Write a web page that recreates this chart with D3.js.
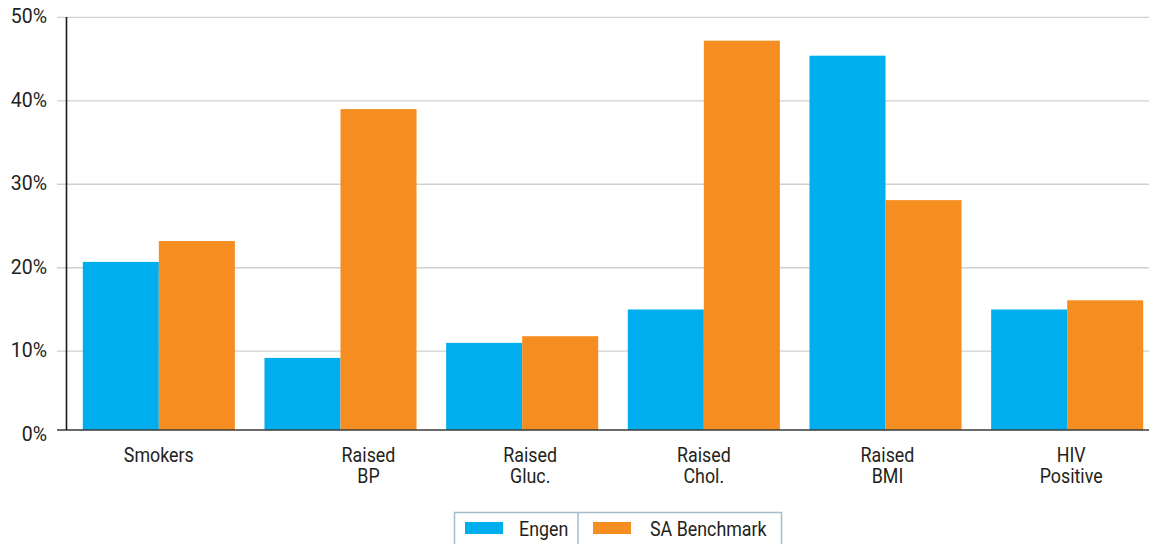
<!DOCTYPE html>
<html>
<head>
<meta charset="utf-8">
<script src="https://cdn.jsdelivr.net/npm/d3@7"></script>
<style>
    body { margin: 0; background: #fff; }
    text { font-family: "Roboto", "Liberation Sans", sans-serif; fill: #231f20; }
</style>
</head>
<body>
<svg id="chart" width="1149" height="544"></svg>
<script>
// Categories (multi-line labels)
const categories = ["Smokers", "Raised BP", "Raised Gluc.", "Raised Chol.", "Raised BMI", "HIV Positive"]
const labelLines = [["Smokers"], ["Raised", "BP"], ["Raised", "Gluc."], ["Raised", "Chol."], ["Raised", "BMI"], ["HIV", "Positive"]]
// Series values, in percent
const engen = [20.7, 9.2, 11.0, 15.0, 45.4, 15.0]
const saBenchmark = [23.2, 39.0, 11.8, 47.2, 28.1, 16.1]
const seriesNames = ["Engen", "SA Benchmark"]
const yTicks = [0, 10, 20, 30, 40, 50]

const colors = ["#00aeef", "#f58d20"]
// small horizontal nudges of the category labels as in the source picture
const labelNudge = [0, 28, 8, 0, 2, 4]

const svg = d3.select("#chart")
const baseline = 430
const squeeze = 0.85   // no condensed font installed, so squeeze Roboto

// text drawn in a squeezed group so it looks condensed
function condensedText(parent, px, py, anchor, lines, sx) {
    const g = parent.append("g")
                    .attr("transform", `translate(${px},${py}) scale(${sx},1)`)
    const t = g.append("text")
               .attr("text-anchor", anchor)
               .attr("font-size", 21)
    t.selectAll("tspan")
     .data(lines)
     .join("tspan")
     .attr("x", 0)
     .attr("dy", (d, i) => i === 0 ? 0 : 21)
     .text(d => d)
    return g
}

const x = d3.scaleBand()
            .domain(categories)
            .range([68, 1158])
            .paddingInner(0.163)
            .paddingOuter(0.0815)

const xSub = d3.scaleBand()
               .domain(seriesNames)
               .range([0, x.bandwidth()])

const y = d3.scaleLinear()
            .domain([0, 50])
            .range([434.7, 17.3])

// gridlines
svg.append("g")
   .selectAll("line")
   .data(yTicks.filter(d => d > 0))
   .join("line")
   .attr("x1", 57)
   .attr("x2", 1149)
   .attr("y1", d => y(d))
   .attr("y2", d => y(d))
   .attr("stroke", "#d0d0d0")
   .attr("stroke-width", 1.3)

// y tick labels
const yLabels = svg.append("g")
yTicks.forEach(t => {
    condensedText(yLabels, 47, y(t) + (t === 0 ? 6 : 6), "end", [t + "%"], 0.93)
})

// bars
const groups = svg.append("g")
                  .selectAll("g")
                  .data(categories)
                  .join("g")
                  .attr("transform", d => `translate(${x(d)},0)`)

groups.selectAll("rect")
      .data((d, i) => [{name: seriesNames[0], v: engen[i]}, {name: seriesNames[1], v: saBenchmark[i]}])
      .join("rect")
      .attr("x", d => xSub(d.name))
      .attr("width", xSub.bandwidth())
      .attr("y", d => y(d.v))
      .attr("height", d => baseline - y(d.v))
      .attr("fill", (d, i) => colors[i])

// axes lines
svg.append("line")
   .attr("x1", 57).attr("x2", 1149)
   .attr("y1", baseline).attr("y2", baseline)
   .attr("stroke", "#3a3a3a").attr("stroke-width", 1.6)

svg.append("line")
   .attr("x1", 66.5).attr("x2", 66.5)
   .attr("y1", 17).attr("y2", baseline)
   .attr("stroke", "#1a1a1a").attr("stroke-width", 1.6)

// category labels
const xLabels = svg.append("g")
categories.forEach((c, i) => {
    condensedText(xLabels, x(c) + x.bandwidth() / 2 + labelNudge[i], 462, "middle", labelLines[i], squeeze)
})

// legend
const legend = svg.append("g")
legend.append("rect")
      .attr("x", 454.5).attr("y", 512.5)
      .attr("width", 327).attr("height", 40)
      .attr("fill", "none")
      .attr("stroke", "#a3bccb").attr("stroke-width", 1.5)
legend.append("line")
      .attr("x1", 578).attr("x2", 578)
      .attr("y1", 512).attr("y2", 544)
      .attr("stroke", "#a3bccb").attr("stroke-width", 1.5)

const legendX = [465, 593]
const legendTextX = [519, 650]
seriesNames.forEach((name, i) => {
    legend.append("rect")
          .attr("x", legendX[i]).attr("y", 522)
          .attr("width", 38).attr("height", 12)
          .attr("fill", colors[i])
    condensedText(legend, legendTextX[i], 536, "start", [name], squeeze)
})
</script>
</body>
</html>
